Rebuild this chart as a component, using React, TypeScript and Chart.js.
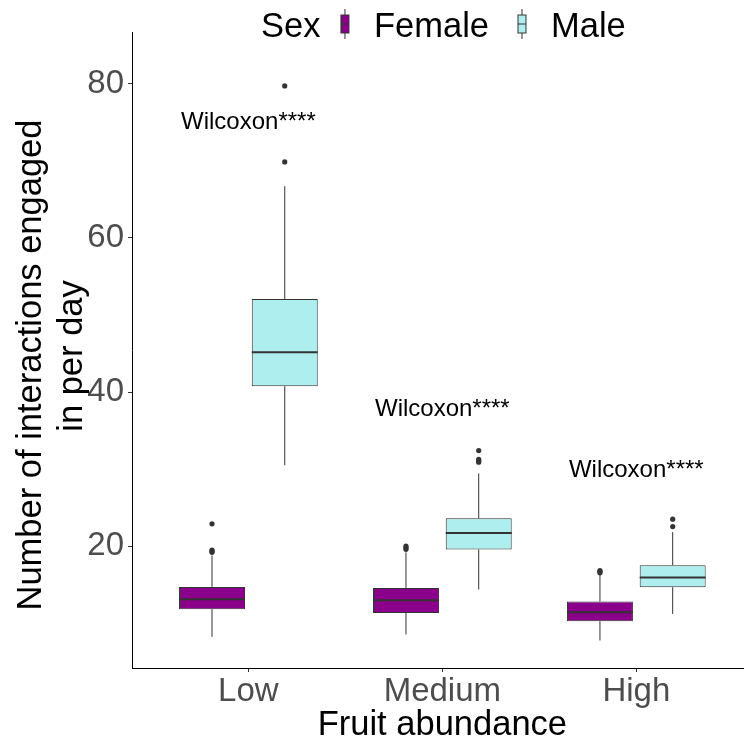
import { useEffect, useRef } from "react";
import { Chart, registerables } from "chart.js";

Chart.register(...registerables);

// Fruit abundance levels and the two sexes compared within each
const categories = ["Low", "Medium", "High"];
const sexes = ["Female", "Male"];
const legendTitle = "Sex";
const yTicks = [20, 40, 60, 80];
const xTitle = "Fruit abundance";
const yTitleLines = ["Number of interactions engaged", "in per day"];

// Box statistics, one entry per abundance level
const femaleLower = [8.24, 8.55, 7.77];
const femaleQ1 = [11.83, 11.35, 10.27];
const femaleMedian = [13.13, 13.0, 11.44];
const femaleQ3 = [14.72, 14.59, 12.83];
const femaleUpper = [18.8, 19.2, 16.37];
const femaleOutliers = [
  [19.2, 19.35, 19.5, 22.9],
  [19.6, 19.8, 20.0],
  [16.55, 16.7, 16.85],
];

const maleLower = [30.5, 14.38, 11.22];
const maleQ1 = [40.75, 19.57, 14.68];
const maleMedian = [45.16, 21.72, 15.94];
const maleQ3 = [52.07, 23.63, 17.54];
const maleUpper = [66.7, 29.43, 21.82];
const maleOutliers = [
  [69.85, 79.7],
  [30.9, 31.1, 31.25, 32.4],
  [22.55, 23.5],
];

// Significance annotation per abundance level
const testLabel = "Wilcoxon****";
const testLabelY = [75.0, 37.8, 29.8];

const FONT = "'Liberation Sans', Arial, Helvetica, sans-serif";
const DODGE = 0.1875;
const EDGE = "#333333";

type Series = {
  label: string;
  fill: string;
  offset: number;
  lower: number[];
  q1: number[];
  median: number[];
  q3: number[];
  upper: number[];
  outliers: number[][];
};

export default function App() {
  const ref = useRef<HTMLCanvasElement>(null);

  useEffect(() => {
    const canvas = ref.current;
    if (!canvas) return;

    const series: Series[] = [
      {
        label: sexes[0],
        fill: "#8B008B",
        offset: -DODGE,
        lower: femaleLower,
        q1: femaleQ1,
        median: femaleMedian,
        q3: femaleQ3,
        upper: femaleUpper,
        outliers: femaleOutliers,
      },
      {
        label: sexes[1],
        fill: "#AEEEEE",
        offset: DODGE,
        lower: maleLower,
        q1: maleQ1,
        median: maleMedian,
        q3: maleQ3,
        upper: maleUpper,
        outliers: maleOutliers,
      },
    ];

    const boxDatasets = series.map((s) => ({
      type: "bar" as const,
      label: s.label,
      data: categories.map((_, i) => ({ x: i + 1 + s.offset, y: [s.q1[i], s.q3[i]] })),
      backgroundColor: s.fill,
      borderColor: EDGE,
      borderWidth: 1,
      borderSkipped: false,
      grouped: false,
      categoryPercentage: 1,
      barPercentage: 0.907,
      order: 2,
    }));

    const outlierDatasets = series.map((s) => ({
      type: "scatter" as const,
      label: s.label + " outliers",
      data: categories.flatMap((_, i) =>
        s.outliers[i].map((v) => ({ x: i + 1 + s.offset, y: v }))
      ),
      pointRadius: 2.6,
      pointBackgroundColor: EDGE,
      pointBorderWidth: 0,
      order: 0,
    }));

    // Whiskers, medians, annotations, titles and the legend
    const boxplotPlugin = {
      id: "boxplotExtras",
      beforeDatasetsDraw(chart: any) {
        const { ctx } = chart;
        const xs = chart.scales.x;
        const ys = chart.scales.y;
        ctx.save();
        ctx.strokeStyle = EDGE;
        ctx.lineWidth = 1;
        series.forEach((s) => {
          categories.forEach((_, i) => {
            const x = xs.getPixelForValue(i + 1 + s.offset);
            ctx.beginPath();
            ctx.moveTo(x, ys.getPixelForValue(s.q3[i]));
            ctx.lineTo(x, ys.getPixelForValue(s.upper[i]));
            ctx.moveTo(x, ys.getPixelForValue(s.q1[i]));
            ctx.lineTo(x, ys.getPixelForValue(s.lower[i]));
            ctx.stroke();
          });
        });
        ctx.restore();
      },
      afterDatasetsDraw(chart: any) {
        const { ctx } = chart;
        const ys = chart.scales.y;
        ctx.save();
        ctx.strokeStyle = EDGE;
        ctx.lineWidth = 2;
        series.forEach((s, k) => {
          const meta = chart.getDatasetMeta(k);
          meta.data.forEach((el: any, i: number) => {
            const y = ys.getPixelForValue(s.median[i]);
            ctx.beginPath();
            ctx.moveTo(el.x - el.width / 2, y);
            ctx.lineTo(el.x + el.width / 2, y);
            ctx.stroke();
          });
        });
        ctx.restore();
      },
      afterDraw(chart: any) {
        const { ctx } = chart;
        const xs = chart.scales.x;
        const ys = chart.scales.y;
        ctx.save();

        // test annotations
        ctx.fillStyle = "#000000";
        ctx.font = `24px ${FONT}`;
        ctx.textAlign = "center";
        ctx.textBaseline = "middle";
        categories.forEach((_, i) => {
          ctx.fillText(testLabel, xs.getPixelForValue(i + 1), ys.getPixelForValue(testLabelY[i]));
        });

        // axis titles
        ctx.font = `34.5px ${FONT}`;
        ctx.textBaseline = "alphabetic";
        ctx.fillText(xTitle, xs.getPixelForValue(2), 735);
        const yCenters = [365, 356];
        const yBaselines = [41, 82];
        yTitleLines.forEach((line, j) => {
          ctx.save();
          ctx.translate(yBaselines[j], yCenters[j]);
          ctx.rotate(-Math.PI / 2);
          ctx.fillText(line, 0, 0);
          ctx.restore();
        });

        // legend
        ctx.textAlign = "left";
        const baseY = 36.5;
        const midY = 24;
        let x = 261;
        ctx.fillText(legendTitle, x, baseY);
        x += ctx.measureText(legendTitle).width + 24.5;
        series.forEach((s) => {
          const cx = x;
          ctx.strokeStyle = EDGE;
          ctx.lineWidth = 1;
          ctx.beginPath();
          ctx.moveTo(cx, midY - 15);
          ctx.lineTo(cx, midY + 15);
          ctx.stroke();
          ctx.fillStyle = s.fill;
          ctx.fillRect(cx - 4, midY - 9, 8, 18);
          ctx.strokeRect(cx - 4, midY - 9, 8, 18);
          ctx.beginPath();
          ctx.moveTo(cx - 4, midY);
          ctx.lineTo(cx + 4, midY);
          ctx.stroke();
          ctx.fillStyle = "#000000";
          const tx = cx + 29;
          ctx.fillText(s.label, tx, baseY);
          x = tx + ctx.measureText(s.label).width + 33;
        });
        ctx.restore();
      },
    };

    const chart = new Chart(canvas, {
      type: "bar",
      data: { datasets: [...boxDatasets, ...outlierDatasets] as any },
      options: {
        responsive: false,
        animation: false,
        devicePixelRatio: 1,
        events: [],
        layout: { padding: { top: 32, right: 0, bottom: 0, left: 0 } },
        plugins: { legend: { display: false }, tooltip: { enabled: false } },
        scales: {
          x: {
            type: "linear",
            min: 0.4,
            max: 3.55,
            offset: false,
            afterBuildTicks: (s: any) => {
              s.ticks = categories.map((_, i) => ({ value: i + 1 }));
            },
            afterFit: (s: any) => {
              s.height = 72;
            },
            ticks: {
              callback: (v: any) => categories[Math.round(Number(v)) - 1] ?? "",
              font: { family: FONT, size: 33 },
              color: "#4d4d4d",
              padding: 0,
              maxRotation: 0,
              autoSkip: false,
            },
            grid: {
              offset: false,
              drawOnChartArea: false,
              tickLength: 4,
              color: EDGE,
              tickColor: EDGE,
            },
            border: { display: true, color: "#000000", width: 1 },
          },
          y: {
            type: "linear",
            min: 4.2,
            max: 86.7,
            afterBuildTicks: (s: any) => {
              s.ticks = yTicks.map((v) => ({ value: v }));
            },
            afterFit: (s: any) => {
              s.width = 132;
            },
            ticks: {
              font: { family: FONT, size: 33 },
              color: "#4d4d4d",
              padding: 4,
            },
            grid: {
              drawOnChartArea: false,
              tickLength: 4,
              color: EDGE,
              tickColor: EDGE,
            },
            border: { display: true, color: "#000000", width: 1 },
          },
        },
      } as any,
      plugins: [boxplotPlugin],
    });

    return () => chart.destroy();
  }, []);

  return (
    <div style={{ position: "fixed", left: 0, top: 0, width: 747, height: 740, background: "#ffffff" }}>
      <canvas ref={ref} width={747} height={740} style={{ display: "block", width: 747, height: 740 }} />
    </div>
  );
}
